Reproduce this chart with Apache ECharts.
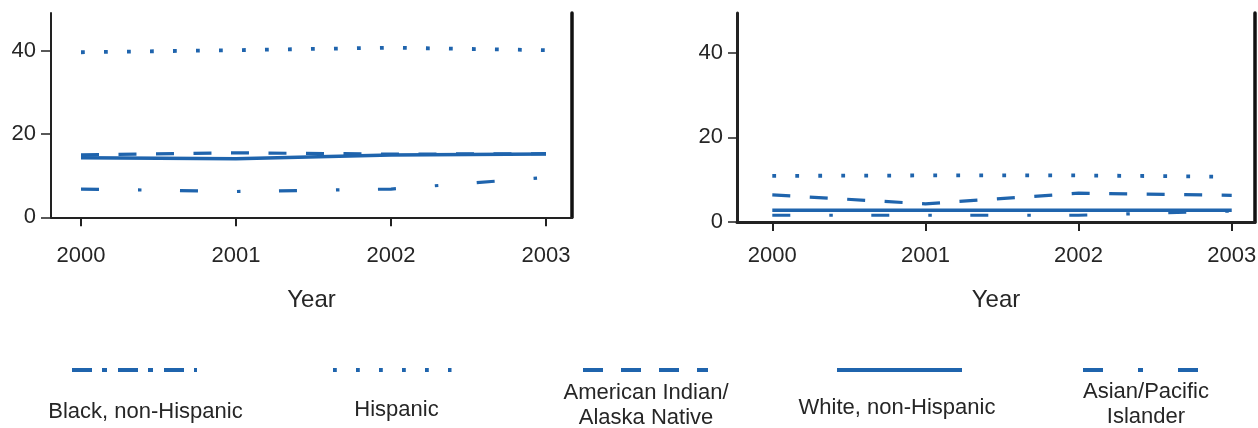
<!DOCTYPE html>
<html>
<head>
<meta charset="utf-8">
<script src="https://cdn.jsdelivr.net/npm/echarts@6/dist/echarts.min.js"></script>
<style>
html,body{margin:0;padding:0;background:#fff;}
#chart{width:1258px;height:428px;}
</style>
</head>
<body>
<div id="chart"></div>
<script>
// ---- data ----
const years = [2000, 2001, 2002, 2003];
const yTicks = [0, 20, 40];
const seriesNames = ['Black, non-Hispanic', 'Hispanic', 'American Indian/\nAlaska Native', 'White, non-Hispanic', 'Asian/Pacific\nIslander'];

// left panel
const hispanicLeft = [39.7, 40.2, 40.8, 40.2];
const aianLeft     = [15.0, 15.5, 15.2, 15.3];
const whiteLeft    = [14.3, 14.1, 15.0, 15.2];
const asianLeft    = [6.8, 6.2, 6.8, 9.6];

// right panel
const hispanicRight = [10.9, 11.0, 11.0, 10.7];
const aianRight     = [6.4, 4.3, 6.8, 6.3];
const whiteRight    = [2.8, 2.8, 2.8, 2.8];
const asianRight    = [1.6, 1.6, 1.6, 2.6];

// ---- styles ----
const BLUE = '#1f64ad';
const TXT = '#262626';
const FONT = 'Liberation Sans, Arial, Helvetica, sans-serif';
const dashes = {
  black: [20, 10, 5, 11],
  hispanic: [3.8, 19.2],
  aian: [18, 19.5],
  white: 'solid',
  asian: [18, 39, 3.5, 38.5]
};
const widths = { black: 3.2, hispanic: 3.8, aian: 3.2, white: 3.5, asian: 3.2 };

function pairs(vals) { return years.map((y, i) => [y, vals[i]]); }

function mkSeries(name, key, vals, gi) {
  return {
    type: 'line', name: name, xAxisIndex: gi, yAxisIndex: gi * 2,
    data: pairs(vals), showSymbol: false, silent: true, animation: false,
    lineStyle: { color: BLUE, width: widths[key], type: dashes[key], cap: 'butt', join: 'miter' },
    z: key === 'white' ? 5 : 3
  };
}

const panels = [
  { grid: { left: 51, top: 13, width: 521, height: 204.3 }, xmin: 1999.8065, xmax: 2003.1677, ymax: 49.14,
    xLabelMargin: 27.5, nameGap: 71, axW: 2, borderW: 3.5, yTick: 10, yMargin: 15 },
  { grid: { left: 737, top: 13, width: 518, height: 209 }, xmin: 1999.7695, xmax: 2003.152, ymax: 49.38,
    xLabelMargin: 23, nameGap: 66, axW: 3, borderW: 3.5, yTick: 9, yMargin: 14 }
];

const grids = [], xAxes = [], yAxes = [];
panels.forEach((p, gi) => {
  grids.push(Object.assign({ containLabel: false, outerBoundsMode: 'none' }, p.grid));
  xAxes.push({
    type: 'value', gridIndex: gi, min: p.xmin, max: p.xmax,
    name: 'Year', nameLocation: 'middle', nameGap: p.nameGap,
    nameTextStyle: { fontFamily: FONT, fontSize: 24, color: TXT, lineHeight: 24 },
    axisLine: { show: true, onZero: false, lineStyle: { color: '#222', width: p.axW } },
    axisTick: { show: true, length: 9, customValues: years, lineStyle: { color: '#222', width: 2 } },
    axisLabel: { customValues: years, margin: p.xLabelMargin, fontFamily: FONT, fontSize: 22, lineHeight: 22, color: TXT,
      formatter: v => String(v) },
    splitLine: { show: false }
  });
  yAxes.push({
    type: 'value', gridIndex: gi, min: 0, max: p.ymax, position: 'left',
    axisLine: { show: true, onZero: false, lineStyle: { color: '#222', width: p.axW } },
    axisTick: { show: true, length: p.yTick, customValues: yTicks, lineStyle: { color: '#222', width: 1.5 } },
    axisLabel: { customValues: yTicks, margin: p.yMargin, fontFamily: FONT, fontSize: 22, color: TXT },
    splitLine: { show: false }
  });
  yAxes.push({
    type: 'value', gridIndex: gi, min: 0, max: p.ymax, position: 'right',
    axisLine: { show: true, onZero: false, lineStyle: { color: '#111', width: p.borderW } },
    axisTick: { show: false }, axisLabel: { show: false }, splitLine: { show: false }
  });
});

const series = [
  mkSeries(seriesNames[4], 'asian', asianLeft, 0),
  mkSeries(seriesNames[2], 'aian', aianLeft, 0),
  mkSeries(seriesNames[1], 'hispanic', hispanicLeft, 0),
  mkSeries(seriesNames[3], 'white', whiteLeft, 0),
  mkSeries(seriesNames[4], 'asian', asianRight, 1),
  mkSeries(seriesNames[2], 'aian', aianRight, 1),
  mkSeries(seriesNames[1], 'hispanic', hispanicRight, 1),
  mkSeries(seriesNames[3], 'white', whiteRight, 1)
];

// ---- legend (drawn as graphics: line sample above centered text) ----
const legendKeys = ['black', 'hispanic', 'aian', 'white', 'asian'];
const legendLines = [[72, 197], [333, 451.5], [583, 708], [837, 962], [1083, 1200]];
const legendTextX = [145.5, 396.5, 646, 897, 1146];
const legendTextY = [412, 410, 405, 408, 404.5];
const legendDash = { black: [20, 10, 5, 11], hispanic: [3.8, 19.2], aian: [20, 18], white: null, asian: [20, 35, 5, 35] };
const graphic = [];
legendKeys.forEach((k, i) => {
  graphic.push({
    type: 'line', silent: true,
    shape: { x1: legendLines[i][0], y1: 370, x2: legendLines[i][1], y2: 370 },
    style: { stroke: BLUE, lineWidth: k === 'white' ? 4 : 3.8, lineDash: legendDash[k], lineCap: 'butt' }
  });
  graphic.push({
    type: 'text', silent: true, x: legendTextX[i], y: legendTextY[i],
    style: { text: seriesNames[i], fill: TXT, font: '22px ' + FONT, fontSize: 22, fontFamily: FONT,
      align: 'center', verticalAlign: 'middle', lineHeight: 25 }
  });
});

const chart = echarts.init(document.getElementById('chart'), null, { renderer: 'canvas' });
chart.setOption({
  animation: false,
  backgroundColor: '#fff',
  grid: grids, xAxis: xAxes, yAxis: yAxes, series: series, graphic: graphic
});
</script>
</body>
</html>
